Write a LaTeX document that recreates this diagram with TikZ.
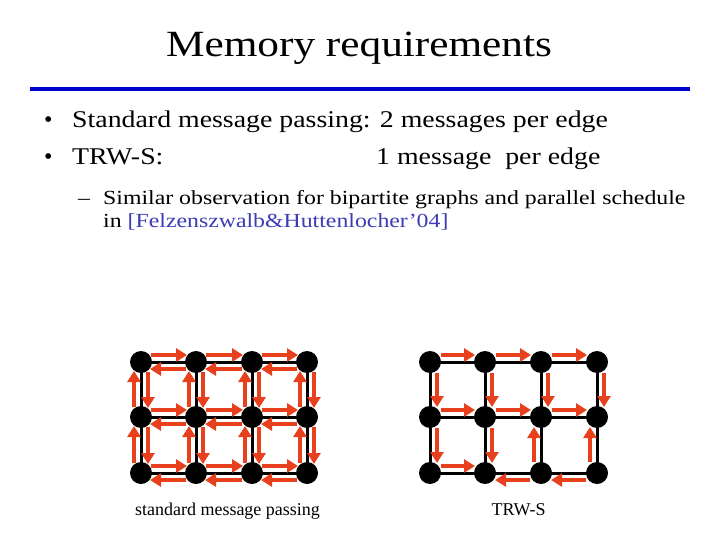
\documentclass[tikz,border=0pt]{standalone}
\usepackage{fontspec}
\setmainfont{Liberation Serif}
\usepackage{graphicx}
\usetikzlibrary{arrows.meta,backgrounds}
\definecolor{msgred}{RGB}{232,64,28}
\definecolor{rulecol}{RGB}{0,0,204}
\definecolor{citecol}{RGB}{60,60,180}
\newcommand{\titlefont}{\fontsize{37}{40}\selectfont}
\newcommand{\bulfont}{\fontsize{24}{28}\selectfont}
\newcommand{\subfont}{\fontsize{20}{24}\selectfont}
\newcommand{\capfont}{\fontsize{18}{21}\selectfont}
\newcommand{\sx}[1]{\scalebox{1.17}[1]{#1}}
\begin{document}
\begin{tikzpicture}[x=1pt,y=-1pt,
  vtx/.style={circle, fill=black, inner sep=0pt, minimum size=22pt},
  gridline/.style={draw=black, line width=3pt},
  msg/.style={draw=msgred, line width=4pt, -{Triangle[length=11pt,width=13pt]}},
  txt/.style={inner sep=0pt, anchor=base west},
  captxt/.style={inner sep=0pt, anchor=base, font=\capfont},
  rulestyle/.style={draw=rulecol, line width=4pt}]
\useasboundingbox (0,0) rectangle (720,540);

% title and rule
\node[inner sep=0pt, anchor=base] (title) at (359,57) {\titlefont\sx{Memory requirements}};
\coordinate (ruleL) at (30,89.5);
\coordinate (ruleR) at (690,89.5);
\draw[rulestyle] (ruleL) -- (ruleR);

% bullets
\node[txt] (b1) at (44,128) {\bulfont •};
\node[txt] (t1) at (72,128) {\bulfont\scalebox{1.16}[1]{Standard message passing: 2 messages per edge}};
\node[txt] (b2) at (44,165) {\bulfont •};
\node[txt] (t2) at (72,165) {\bulfont\scalebox{1.16}[1]{TRW-S:}};
\node[txt] (t2b) at (376,165) {\bulfont\scalebox{1.16}[1]{1 message\ \ per edge}};
\node[txt] (d1) at (78,205) {\subfont\scalebox{1.19}[1]{–}};
\node[txt] (s1) at (103,205) {\subfont\scalebox{1.19}[1]{Similar observation for bipartite graphs and parallel schedule}};
\node[txt] (s2) at (103,228) {\subfont\scalebox{1.19}[1]{in \textcolor{citecol}{[Felzenszwalb\&Huttenlocher’04]}}};

% captions
\node[captxt] (c1) at (227.5,515) {standard message passing};
\node[captxt] (c2) at (518.5,515) {TRW-S};

% grid nodes
\foreach \r/\yy in {1/362,2/417,3/473} {
  \foreach \c/\xx in {1/141,2/196,3/252,4/307}
    \node[vtx] (L\r\c) at (\xx,\yy) {};
  \foreach \c/\xx in {1/430,2/485,3/541,4/597}
    \node[vtx] (R\r\c) at (\xx,\yy) {};
}

\begin{scope}[on background layer]
  \fill[white] (0,0) rectangle (720,540);
  % grid edges
  \foreach \r in {1,2,3}
    \foreach \c/\cn in {1/2,2/3,3/4} {
      \draw[gridline] (L\r\c.center) -- (L\r\cn.center);
      \draw[gridline] (R\r\c.center) -- (R\r\cn.center);
    }
  \foreach \r/\rn in {1/2,2/3}
    \foreach \c in {1,2,3,4} {
      \draw[gridline] (L\r\c.center) -- (L\rn\c.center);
      \draw[gridline] (R\r\c.center) -- (R\rn\c.center);
    }
  % standard message passing: two messages per edge
  \foreach \r in {1,2,3}
    \foreach \c/\cn in {1/2,2/3,3/4} {
      \draw[msg] ([shift={(10,-7)}]L\r\c.center) -- ([shift={(-9,-7)}]L\r\cn.center);
      \draw[msg] ([shift={(-10,7)}]L\r\cn.center) -- ([shift={(9,7)}]L\r\c.center);
    }
  \foreach \r/\rn in {1/2,2/3}
    \foreach \c in {1,2,3,4} {
      \draw[msg] ([shift={(-7,-10)}]L\rn\c.center) -- ([shift={(-7,9)}]L\r\c.center);
      \draw[msg] ([shift={(7,10)}]L\r\c.center) -- ([shift={(7,-9)}]L\rn\c.center);
    }
  % TRW-S: one message per edge
  \foreach \r in {1,2}
    \foreach \c/\cn in {1/2,2/3,3/4}
      \draw[msg] ([shift={(11,-7)}]R\r\c.center) -- ([shift={(-10,-7)}]R\r\cn.center);
  \draw[msg] ([shift={(11,-7)}]R31.center) -- ([shift={(-10,-7)}]R32.center);
  \draw[msg] ([shift={(-11,7)}]R33.center) -- ([shift={(10,7)}]R32.center);
  \draw[msg] ([shift={(-11,7)}]R34.center) -- ([shift={(10,7)}]R33.center);
  \foreach \c in {1,2,3,4}
    \draw[msg] ([shift={(7,11)}]R1\c.center) -- ([shift={(7,-10)}]R2\c.center);
  \foreach \c in {1,2}
    \draw[msg] ([shift={(7,11)}]R2\c.center) -- ([shift={(7,-10)}]R3\c.center);
  \foreach \c in {3,4}
    \draw[msg] ([shift={(-7,-11)}]R3\c.center) -- ([shift={(-7,10)}]R2\c.center);
\end{scope}
\end{tikzpicture}
\end{document}
